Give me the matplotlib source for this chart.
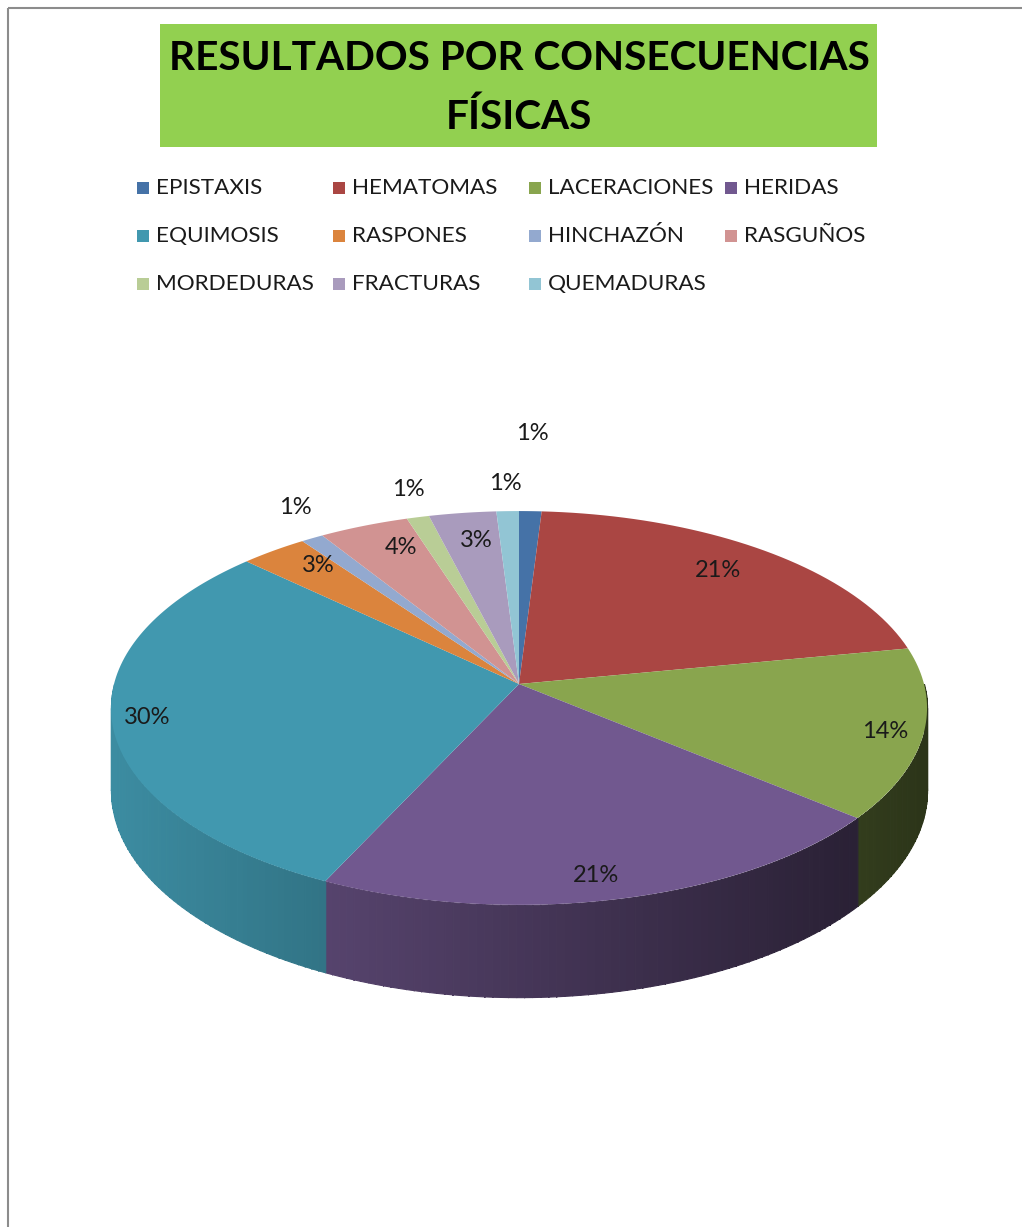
import numpy as np
import matplotlib
matplotlib.use("Agg")
import matplotlib.pyplot as plt
from matplotlib.path import Path
from matplotlib.patches import Rectangle
from matplotlib.transforms import Transform
from matplotlib.colors import to_rgb

# datos del grafico
categorias = ["EPISTAXIS", "HEMATOMAS", "LACERACIONES", "HERIDAS",
              "EQUIMOSIS", "RASPONES", "HINCHAZÓN", "RASGUÑOS",
              "MORDEDURAS", "FRACTURAS", "QUEMADURAS"]
porcentajes = [1, 21, 14, 21, 30, 3, 1, 4, 1, 3, 1]
colores = ["#4572A7", "#AA4643", "#89A54E", "#71588F", "#4198AF", "#DB843D",
           "#93A9CF", "#D19392", "#B9CD96", "#A99BBD", "#92C5D4"]
etiquetas = ["%d%%" % p for p in porcentajes]
titulo = "RESULTADOS POR CONSECUENCIAS\nFÍSICAS"

# donde van las etiquetas: fraccion del radio y giro (grados)
radio_etiq = [1.536, 0.825, 0.91, 0.899, 0.915, 0.848, 1.195, 0.83, 1.181, 0.824, 1.186]
giro_etiq = [0.3, 1.5, -0.9, -1.7, 0, -2.2, -2.9, -2.7, -0.9, -0.9, 0.1]

# geometria de la torta (pixeles)
CX, CY = 519, 684
RX, RY = 405, 194
K = 0.1218      # perspectiva
ALTO = 81       # grosor


class Proyeccion(Transform):
    """circulo unitario (u,v) -> pixeles, o (angulo, z) en la pared"""
    input_dims = output_dims = 2
    is_separable = False
    has_inverse = False

    def __init__(self, pared=False):
        super().__init__()
        self.pared = pared

    def transform_non_affine(self, values):
        values = np.atleast_2d(np.asarray(values, float))
        if self.pared:
            ang = np.radians(values[:, 0])
            u, v, z = np.cos(ang), np.sin(ang), values[:, 1]
        else:
            u, v, z = values[:, 0], values[:, 1], 0.0
        w = 1 + K * v
        return np.column_stack([CX + RX * u / w, CY - RY * v / w + ALTO * z / w])

    def transform_path_non_affine(self, path):
        trozos = [seg(np.linspace(0, 1, 24)) for seg, _ in path.iter_bezier()]
        pts = np.concatenate(trozos)
        pts = np.vstack([pts, pts[:1]])
        return Path(self.transform_non_affine(pts), closed=True)


fig = plt.figure(figsize=(10.22, 12.27), dpi=100)
ax = fig.add_axes([0, 0, 1, 1])

wedges, _ = ax.pie(porcentajes, colors=colores, startangle=90, counterclock=False,
                   radius=1, center=(0, 0), wedgeprops=dict(linewidth=0))

tapa = Proyeccion() + ax.transData
pared = Proyeccion(pared=True) + ax.transData
proy_pared = Proyeccion(pared=True)

for w in wedges:
    w.set_transform(tapa)
    w.set_zorder(3)

# paredes laterales (solo la mitad de adelante)
for w, color in zip(wedges, colores):
    a, b = w.theta1, w.theta2
    for k in (-1, 0, 1):
        lo, hi = max(a, 180 + 360 * k), min(b, 360 + 360 * k)
        if hi <= lo:
            continue
        bordes = np.linspace(lo, hi, int(np.ceil(hi - lo)) + 1)
        for t0, t1 in zip(bordes[:-1], bordes[1:]):
            xm = proy_pared.transform([[(t0 + t1) / 2, 0]])[0, 0]
            f = 0.92 - 0.6 * (xm - (CX - RX)) / (2 * RX)
            c = np.clip(np.array(to_rgb(color)) * f, 0, 1)
            ax.fill_between([t0, t1], 0, 1, color=c, lw=0.8, transform=pared, zorder=1)

# etiquetas de porcentaje
for w, etiqueta, r, g in zip(wedges, etiquetas, radio_etiq, giro_etiq):
    ang = np.radians((w.theta1 + w.theta2) / 2 + g)
    ax.text(r * np.cos(ang), r * np.sin(ang), etiqueta, transform=tapa,
            ha="center", va="center", fontsize=17, family="Lato",
            color="#1a1a1a", zorder=5)

ax.set_aspect("auto")
ax.set_xlim(0, 1022)
ax.set_ylim(1227, 0)
ax.axis("off")

# marco del grafico
ax.add_patch(Rectangle((8, 8), 1200, 1400, fill=False, edgecolor="#8c8c8c", lw=1.5, zorder=0))

# titulo
ax.add_patch(Rectangle((160, 24), 717, 123, facecolor="#92D050", edgecolor="none", zorder=2))
for i, linea in enumerate(titulo.split("\n")):
    ax.text(519, 58 + 59 * i, linea, ha="center", va="center", fontsize=29.2,
            family="Lato", weight="bold", color="black", zorder=3)

# leyenda
for i, (nombre, color) in enumerate(zip(categorias, colores)):
    fila, col = divmod(i, 4)
    x0 = 137 + 196 * col
    y0 = 188 + 48 * fila
    ax.add_patch(Rectangle((x0, y0 - 6), 12, 12, facecolor=color, edgecolor="none"))
    ax.text(x0 + 19, y0, nombre, ha="left", va="center", fontsize=16.2,
            family="Lato", color="#1a1a1a")

fig.savefig("out.png", dpi=100)
